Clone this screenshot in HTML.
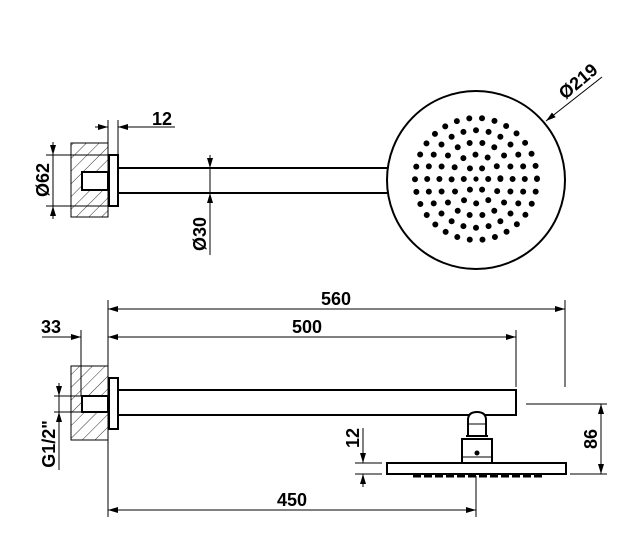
<!DOCTYPE html>
<html><head><style>
html,body{margin:0;padding:0;background:#fff;}
svg{display:block;}
text{font-family:"Liberation Sans",Arial,sans-serif;font-weight:bold;font-size:18px;fill:#000;}
</style></head><body>
<svg width="624" height="540" viewBox="0 0 624 540" xmlns="http://www.w3.org/2000/svg">
<defs>
<pattern id="h" width="9" height="9" patternUnits="userSpaceOnUse" patternTransform="rotate(45)">
<line x1="0" y1="0" x2="0" y2="9" stroke="#000" stroke-width="0.8"/>
</pattern>
<marker id="a" viewBox="0 0 10 6" refX="10" refY="3" markerWidth="10" markerHeight="6" orient="auto-start-reverse" markerUnits="userSpaceOnUse">
<path d="M0,0 L10,3 L0,6 z" fill="#000"/>
</marker>
</defs>
<g stroke="#000" fill="none">
<!-- TOP VIEW -->
<rect x="71" y="143" width="37" height="74" fill="url(#h)" stroke-width="1"/>
<rect x="82" y="172" width="26" height="18" fill="#fff" stroke-width="2"/>
<rect x="109" y="155" width="9" height="51" fill="#fff" stroke-width="2"/>
<line x1="118" y1="168" x2="388" y2="168" stroke-width="2"/>
<line x1="118" y1="193" x2="388" y2="193" stroke-width="2"/>
<circle cx="476" cy="180" r="89" stroke-width="2"/>
<!-- dots -->
<circle cx="476" cy="179" r="2.6" fill="#000" stroke="none"/>
<g stroke-width="6" stroke-linecap="round">
<circle cx="476" cy="179" r="12.2" pathLength="6" stroke-dasharray="0 1"/>
<circle cx="476" cy="179" r="24.4" pathLength="12" stroke-dasharray="0 1"/>
<circle cx="476" cy="179" r="36.6" pathLength="18" stroke-dasharray="0 1"/>
<circle cx="476" cy="179" r="48.8" pathLength="24" stroke-dasharray="0 1"/>
<circle cx="476" cy="179" r="61" pathLength="30" stroke-dasharray="0 1"/>
</g>
<!-- dim 12 -->
<line x1="108" y1="120" x2="108" y2="143" stroke-width="1"/>
<line x1="118" y1="120" x2="118" y2="155" stroke-width="1"/>
<line x1="95" y1="127" x2="108" y2="127" stroke-width="1" marker-end="url(#a)"/>
<line x1="175" y1="127" x2="118" y2="127" stroke-width="1" marker-end="url(#a)"/>
<!-- dim 62 -->
<line x1="46" y1="155" x2="109" y2="155" stroke-width="1"/>
<line x1="46" y1="206" x2="109" y2="206" stroke-width="1"/>
<line x1="53" y1="142" x2="53" y2="155" stroke-width="1" marker-end="url(#a)"/>
<line x1="53" y1="219" x2="53" y2="206" stroke-width="1" marker-end="url(#a)"/>
<line x1="53" y1="155" x2="53" y2="206" stroke-width="1"/>
<!-- dim 30 -->
<line x1="210" y1="155" x2="210" y2="168" stroke-width="1" marker-end="url(#a)"/>
<line x1="210" y1="255" x2="210" y2="193" stroke-width="1" marker-end="url(#a)"/>
<line x1="210" y1="168" x2="210" y2="193" stroke-width="1"/>
<!-- 219 leader -->
<line x1="602" y1="77" x2="546" y2="121" stroke-width="1" marker-end="url(#a)"/>

<!-- SIDE VIEW -->
<rect x="71" y="366" width="37" height="74" fill="url(#h)" stroke-width="1"/>
<rect x="82" y="396" width="26" height="16" fill="#fff" stroke-width="2"/>
<rect x="109" y="378" width="9" height="51" fill="#fff" stroke-width="2"/>
<path d="M118,390 H516 V415 H118" stroke-width="2"/>
<!-- head -->
<rect x="387" y="463" width="179" height="11" fill="#fff" stroke-width="2"/>
<path d="M468,436 V420 Q468,412 477,412 Q486,412 486,420 V436 Z" fill="#fff" stroke-width="2"/>
<line x1="468" y1="424" x2="486" y2="424" stroke-width="1"/>
<rect x="462" y="439" width="30" height="24" fill="#fff" stroke-width="2"/>
<line x1="462" y1="457" x2="492" y2="457" stroke-width="1"/>
<line x1="466" y1="436" x2="488" y2="436" stroke-width="2"/>
<circle cx="477" cy="453" r="2.5" fill="#000" stroke="none"/>
<line x1="413" y1="476" x2="542" y2="476" stroke-width="3" stroke-dasharray="8,3"/>
<!-- extension lines -->
<line x1="108" y1="300" x2="108" y2="366" stroke-width="1"/>
<line x1="108" y1="440" x2="108" y2="517" stroke-width="1"/>
<line x1="81" y1="330" x2="81" y2="396" stroke-width="1"/>
<line x1="516" y1="330" x2="516" y2="387" stroke-width="1"/>
<line x1="565" y1="300" x2="565" y2="387" stroke-width="1"/>
<line x1="476" y1="476" x2="476" y2="517" stroke-width="1"/>
<!-- 560 -->
<line x1="108" y1="309" x2="565" y2="309" stroke-width="1" marker-start="url(#a)" marker-end="url(#a)"/>
<!-- 500 -->
<line x1="108" y1="337" x2="516" y2="337" stroke-width="1" marker-start="url(#a)" marker-end="url(#a)"/>
<!-- 33 -->
<line x1="42" y1="337" x2="81" y2="337" stroke-width="1" marker-end="url(#a)"/>
<!-- 450 -->
<line x1="108" y1="510" x2="476" y2="510" stroke-width="1" marker-start="url(#a)" marker-end="url(#a)"/>
<!-- G1/2 -->
<line x1="54" y1="396" x2="82" y2="396" stroke-width="1"/>
<line x1="54" y1="412" x2="82" y2="412" stroke-width="1"/>
<line x1="59" y1="383" x2="59" y2="396" stroke-width="1" marker-end="url(#a)"/>
<line x1="59" y1="470" x2="59" y2="412" stroke-width="1" marker-end="url(#a)"/>
<line x1="59" y1="396" x2="59" y2="412" stroke-width="1"/>
<!-- 86 -->
<line x1="526" y1="404" x2="607" y2="404" stroke-width="1"/>
<line x1="570" y1="474" x2="607" y2="474" stroke-width="1"/>
<line x1="601" y1="404" x2="601" y2="474" stroke-width="1" marker-start="url(#a)" marker-end="url(#a)"/>
<!-- 12 side -->
<line x1="355" y1="463" x2="382" y2="463" stroke-width="1"/>
<line x1="355" y1="474" x2="382" y2="474" stroke-width="1"/>
<line x1="363" y1="428" x2="363" y2="463" stroke-width="1" marker-end="url(#a)"/>
<line x1="363" y1="487" x2="363" y2="474" stroke-width="1" marker-end="url(#a)"/>
</g>

<text x="152" y="125">12</text>
<text transform="translate(49,180) rotate(-90)" text-anchor="middle">Ø62</text>
<text transform="translate(206,234) rotate(-90)" text-anchor="middle">Ø30</text>
<text transform="translate(582,86) rotate(-40)" text-anchor="middle">Ø219</text>
<text x="336" y="305" text-anchor="middle">560</text>
<text x="307" y="333" text-anchor="middle">500</text>
<text x="41" y="333">33</text>
<text x="292" y="506" text-anchor="middle">450</text>
<text transform="translate(55,444) rotate(-90)" text-anchor="middle">G1/2"</text>
<text transform="translate(597,439) rotate(-90)" text-anchor="middle">86</text>
<text transform="translate(359,438) rotate(-90)" text-anchor="middle">12</text>
</svg>
</body></html>
